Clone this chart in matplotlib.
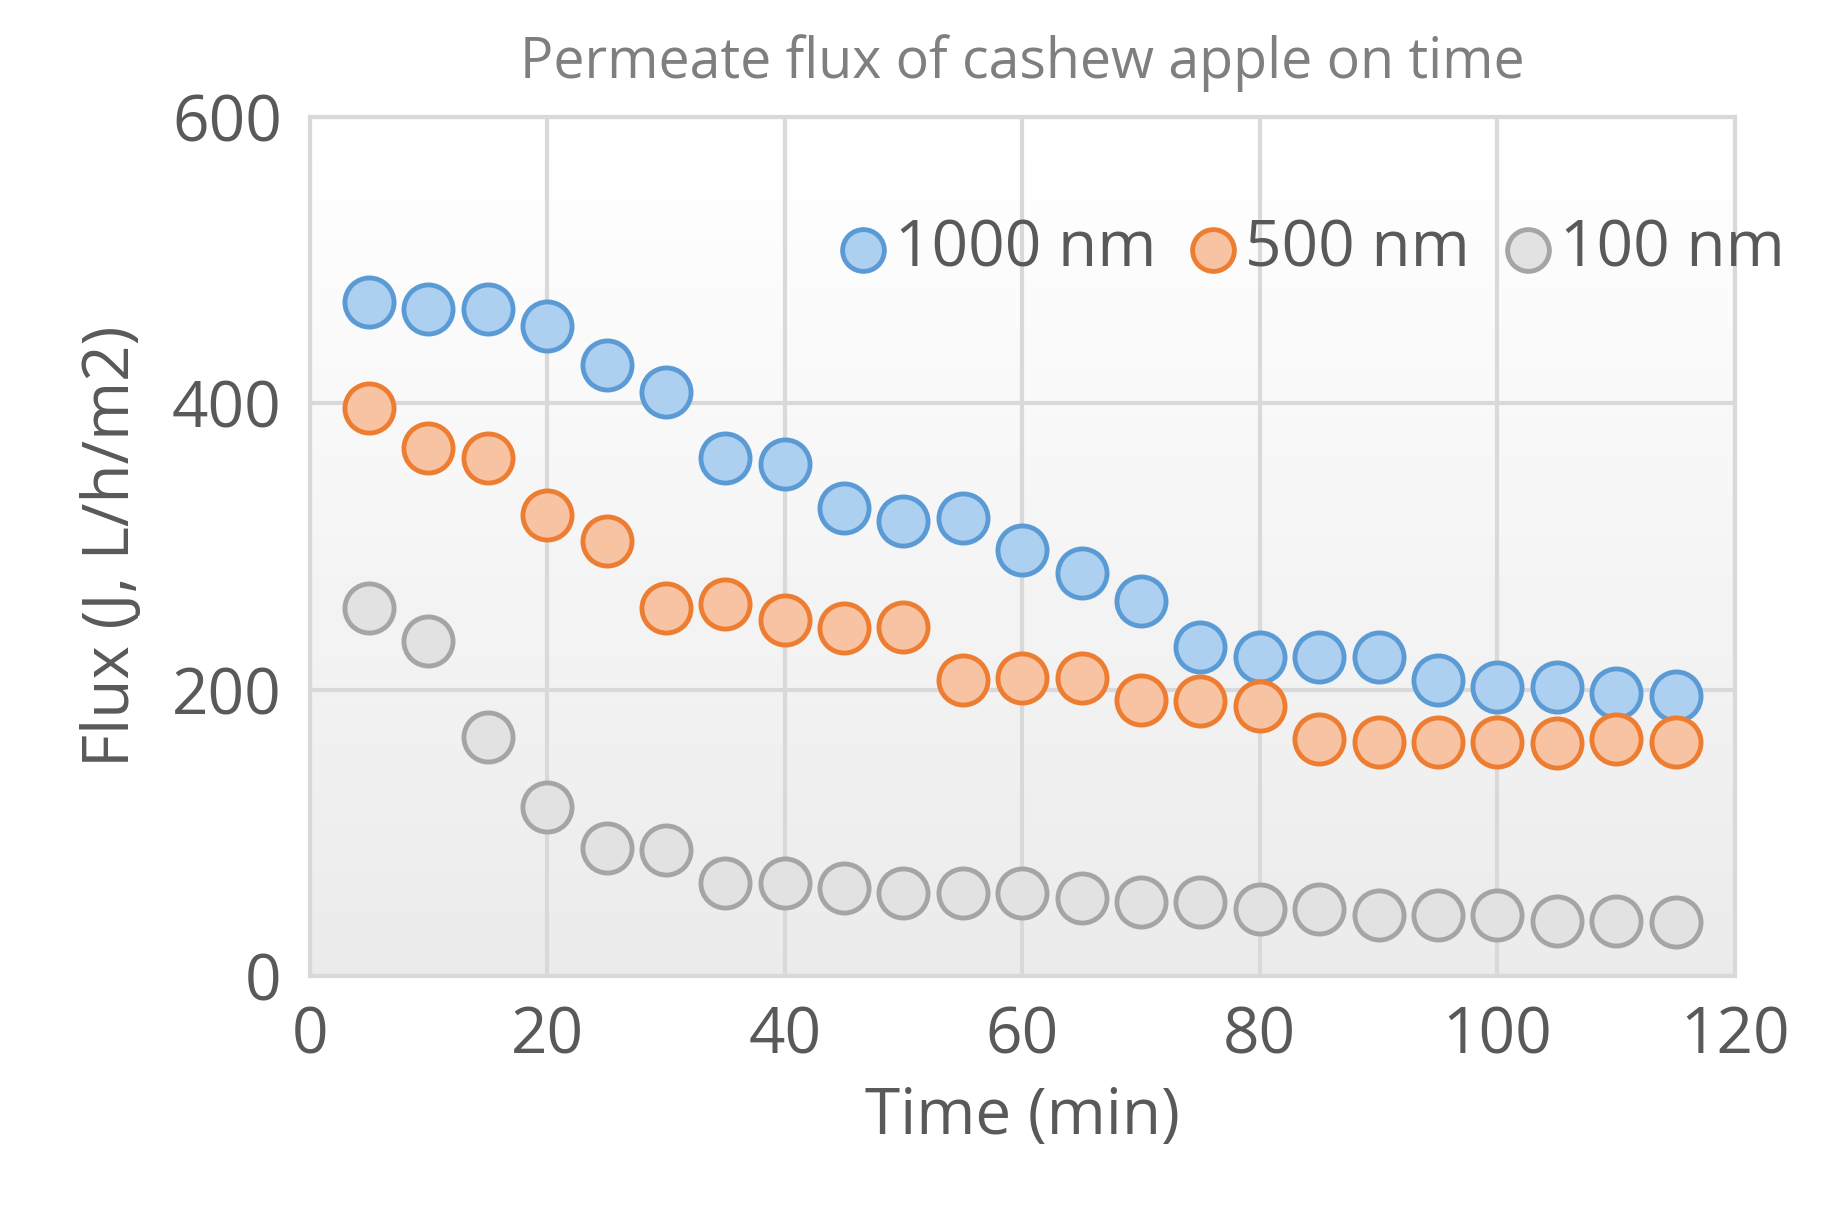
import numpy as np
import matplotlib
matplotlib.use('Agg')
import matplotlib.pyplot as plt

plt.rcParams['font.family'] = ['Open Sans', 'DejaVu Sans']

time_min = [5, 10, 15, 20, 25, 30, 35, 40, 45, 50, 55, 60, 65, 70, 75, 80, 85, 90, 95, 100, 105, 110, 115]
flux_1000 = [471, 466, 466, 454, 427, 408, 362, 358, 327, 318, 320, 298, 282, 262, 230, 223, 223, 223, 207, 202, 202, 198, 196]
flux_500 = [397, 369, 362, 322, 304, 257, 260, 249, 243, 244, 207, 208, 208, 193, 192, 189, 166, 164, 164, 164, 163, 166, 164]
flux_100 = [257, 234, 167, 118, 90, 88, 65, 65, 62, 58, 58, 58, 55, 52, 52, 47, 47, 43, 43, 43, 39, 39, 38]

series = [
    ('1000 nm', flux_1000, '#aed0f0', '#5b9bd5'),
    ('500 nm', flux_500, '#f8c3a3', '#ed7d31'),
    ('100 nm', flux_100, '#e2e2e2', '#a5a5a5'),
]

fig = plt.figure(figsize=(18.32, 12.19), dpi=100)
ax = fig.add_axes([0.169, 0.199, 0.778, 0.705])

# subtle vertical gradient background, white at top, grey at bottom
grad = np.linspace(0.92, 1.0, 256).reshape(-1, 1)
ax.imshow(grad, extent=[0, 120, 0, 600], aspect='auto', cmap='gray', vmin=0, vmax=1,
          origin='lower', zorder=0)

for label, vals, face, edge in series:
    ax.scatter(time_min, vals, s=1250, facecolor=face, edgecolor=edge, linewidth=3.5,
               label=label, zorder=3)

ax.set_xlim(0, 120)
ax.set_ylim(0, 600)
ax.set_xticks(range(0, 121, 20))
ax.set_yticks(range(0, 601, 200))
ax.grid(True, color='#d9d9d9', linewidth=3, zorder=1)
ax.set_axisbelow(True)
for s in ax.spines.values():
    s.set_color('#d9d9d9')
    s.set_linewidth(3)
ax.tick_params(length=0, labelsize=46, colors='#595959', pad=20)

ax.set_title('Permeate flux of cashew apple on time', fontsize=40, color='#7f7f7f', pad=28)
ax.set_xlabel('Time (min)', fontsize=46, color='#595959', labelpad=12)
ax.set_ylabel('Flux (J, L/h/m2)', fontsize=46, color='#595959', labelpad=20)

leg = ax.legend(loc='upper right', bbox_to_anchor=(1.075, 0.95), ncol=3, frameon=False,
                fontsize=46, labelcolor='#595959', handletextpad=-0.1, columnspacing=0.3,
                markerscale=0.85, handlelength=1.2)

fig.savefig('out.png', dpi=100)
